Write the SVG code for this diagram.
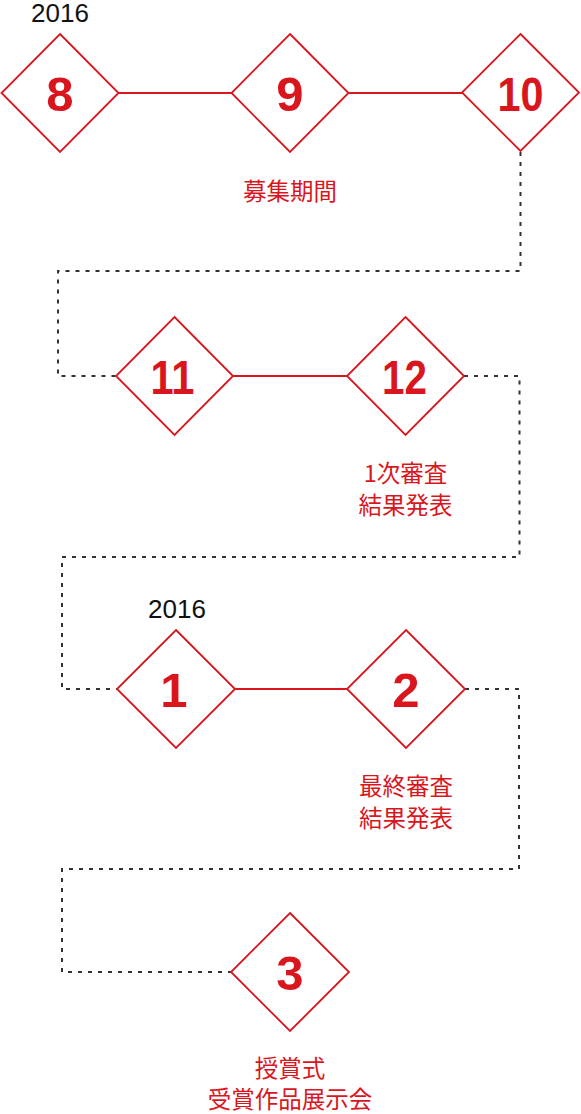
<svg xmlns="http://www.w3.org/2000/svg" width="581" height="1114" viewBox="0 0 581 1114">
<defs>
<style>
.dia{fill:#fff;stroke:#d9161e;stroke-width:1.8}
.num{font-family:"Liberation Sans",Arial,sans-serif;font-weight:bold;font-size:49px;fill:#d9161e;text-anchor:middle}
.yr{font-family:"Liberation Sans",Arial,sans-serif;font-size:26px;fill:#111;text-anchor:middle}
.lbl{font-family:"Noto Sans CJK JP","Noto Sans",sans-serif;font-size:23.5px;fill:#d9161e;text-anchor:middle}
.solid{stroke:#d9161e;stroke-width:1.8;fill:none}
.dot{stroke:#333;stroke-width:2;fill:none;stroke-dasharray:4 6}
</style>
</defs>
<rect width="581" height="1114" fill="#fff"/>
<g id="connectors">
<line class="solid" x1="118" y1="93" x2="232" y2="93"/>
<line class="solid" x1="348" y1="93" x2="462" y2="93"/>
<line class="solid" x1="233" y1="376" x2="347" y2="376"/>
<line class="solid" x1="235" y1="689" x2="348" y2="689"/>
<path class="dot" d="M520.5,152 V271 H58 V376 H116"/>
<path class="dot" d="M464,376 H519.5 V557 H62 V689 H117"/>
<path class="dot" d="M465,689 H519 V869 H62 V972 H231"/>
</g>
<g id="year1"><text class="yr" x="60" y="22">2016</text></g>
<g id="n8">
<polygon class="dia" points="60,34 118.5,93 60,152 1.5,93"/>
<text class="num" x="60" y="111">8</text>
</g>
<g id="n9">
<polygon class="dia" points="290,34 348.5,93 290,152 231.5,93"/>
<text class="num" x="290" y="111">9</text>
</g>
<g id="n10">
<polygon class="dia" points="520.5,34 579,92.5 520.5,151 462,92.5"/>
<text class="num" x="520.5" y="111" textLength="46" lengthAdjust="spacingAndGlyphs">10</text>
</g>
<g id="label1"><text class="lbl" x="290" y="200">募集期間</text></g>
<g id="n11">
<polygon class="dia" points="174.5,317 233,376 174.5,435 116,376"/>
<text class="num" x="172.5" y="394" textLength="44" lengthAdjust="spacingAndGlyphs">11</text>
</g>
<g id="n12">
<polygon class="dia" points="405.5,317 464,376 405.5,435 347,376"/>
<text class="num" x="404.5" y="394" textLength="45" lengthAdjust="spacingAndGlyphs">12</text>
</g>
<g id="label2">
<text class="lbl" x="405.5" y="482">1次審査</text>
<text class="lbl" x="405.5" y="514">結果発表</text>
</g>
<g id="year2"><text class="yr" x="177" y="618">2016</text></g>
<g id="n1">
<polygon class="dia" points="176,630 235,689 176,748 117,689"/>
<text class="num" x="174" y="707">1</text>
</g>
<g id="n2">
<polygon class="dia" points="406,630 465,689 406,748 347,689"/>
<text class="num" x="406" y="707">2</text>
</g>
<g id="label3">
<text class="lbl" x="406" y="795">最終審査</text>
<text class="lbl" x="406" y="827">結果発表</text>
</g>
<g id="n3">
<polygon class="dia" points="290,913 349,972 290,1031 231,972"/>
<text class="num" x="290" y="990">3</text>
</g>
<g id="label4">
<text class="lbl" x="290" y="1077">授賞式</text>
<text class="lbl" x="290" y="1108">受賞作品展示会</text>
</g>
</svg>
